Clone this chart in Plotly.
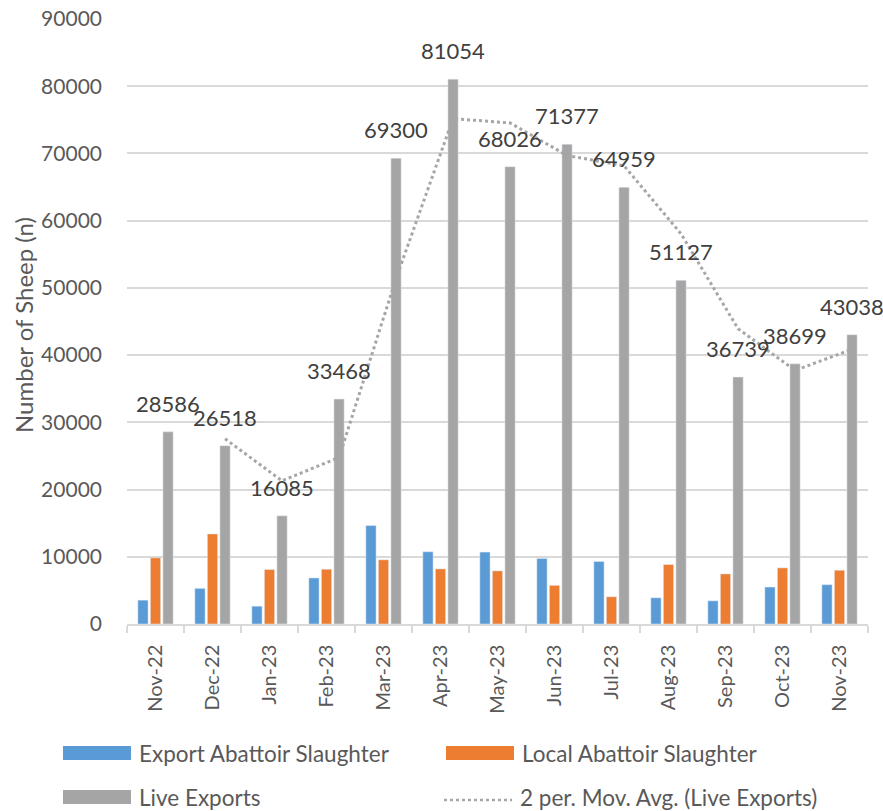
import plotly.graph_objects as go
import pandas as pd

# ---------------- data ----------------
months = ["Nov-22", "Dec-22", "Jan-23", "Feb-23", "Mar-23", "Apr-23", "May-23",
          "Jun-23", "Jul-23", "Aug-23", "Sep-23", "Oct-23", "Nov-23"]
export_abattoir = [3550, 5300, 2650, 6850, 14650, 10750, 10700,
                   9750, 9300, 3900, 3450, 5500, 5850]
local_abattoir = [9850, 13400, 8100, 8150, 9550, 8200, 7900,
                  5750, 4050, 8850, 7450, 8350, 8000]
live_exports = [28586, 26518, 16085, 33468, 69300, 81054, 68026,
                71377, 64959, 51127, 36739, 38699, 43038]
y_ticks = [0, 10000, 20000, 30000, 40000, 50000, 60000, 70000, 80000, 90000]
y_tick_labels = [str(v) for v in y_ticks]

# 2-period moving average trendline of Live Exports (as Excel computes it)
mov_avg = pd.Series(live_exports).rolling(2).mean().tolist()

# ---------------- styling ----------------
BLUE = "#5B9BD5"
ORANGE = "#ED7D31"
GRAY = "#A5A5A5"
FONT = "Lato"
TICK_COLOR = "#595959"
LABEL_COLOR = "#404040"
GRID = "#D9D9D9"

W, H = 883, 811
PL, PR, PT, PB = 127, 868, 19, 624   # plot-area pixel box

BAR_W = 0.18
SLOT = 0.22
xs = list(range(len(months)))

fig = go.Figure()
fig.add_trace(go.Bar(x=xs, y=export_abattoir, name="Export Abattoir Slaughter",
                     marker_color=BLUE, width=BAR_W, offset=-SLOT - BAR_W / 2,
                     showlegend=False))
fig.add_trace(go.Bar(x=xs, y=local_abattoir, name="Local Abattoir Slaughter",
                     marker_color=ORANGE, width=BAR_W, offset=-BAR_W / 2,
                     showlegend=False))
fig.add_trace(go.Bar(x=xs, y=live_exports, name="Live Exports",
                     marker_color=GRAY, width=BAR_W, offset=SLOT - BAR_W / 2,
                     showlegend=False))

ma_x = [x + SLOT for x, v in zip(xs, mov_avg) if pd.notna(v)]
ma_y = [v for v in mov_avg if pd.notna(v)]
fig.add_trace(go.Scatter(x=ma_x, y=ma_y, mode="lines",
                         name="2 per. Mov. Avg. (Live Exports)",
                         line=dict(color="#A6A6A6", width=3, dash="dot"),
                         showlegend=False, cliponaxis=False))

# data labels on Live Exports bars
for x, v in zip(xs, live_exports):
    fig.add_annotation(x=x + SLOT, y=v, text=str(v), showarrow=False,
                       xanchor="center", yanchor="bottom", yshift=13,
                       font=dict(family=FONT, size=22, color=LABEL_COLOR))


def px_x(p):
    return (p - PL) / (PR - PL)


def px_y(p):
    return (PB - p) / (PB - PT)


# y-axis title
fig.add_annotation(xref="paper", yref="paper", x=px_x(23), y=px_y(325),
                   text="Number of Sheep (n)", textangle=-90, showarrow=False,
                   xanchor="center", yanchor="middle",
                   font=dict(family=FONT, size=24, color=TICK_COLOR))

# manual legend (wide swatches like the original)
legend_items = [
    ("Export Abattoir Slaughter", BLUE, "bar", 63, 753),
    ("Local Abattoir Slaughter", ORANGE, "bar", 446, 753),
    ("Live Exports", GRAY, "bar", 63, 797),
    ("2 per. Mov. Avg. (Live Exports)", "#A6A6A6", "line", 444, 797),
]
for label, color, kind, lx, ly in legend_items:
    if kind == "bar":
        fig.add_shape(type="rect", xref="paper", yref="paper",
                      x0=px_x(lx), x1=px_x(lx + 68),
                      y0=px_y(ly + 7), y1=px_y(ly - 7),
                      fillcolor=color, line=dict(width=0))
    else:
        fig.add_shape(type="line", xref="paper", yref="paper",
                      x0=px_x(lx), x1=px_x(lx + 68),
                      y0=px_y(ly + 3), y1=px_y(ly + 3),
                      line=dict(color=color, width=2.5, dash="dot"))
    fig.add_annotation(xref="paper", yref="paper",
                       x=px_x(lx + 74), y=px_y(ly),
                       text=label, showarrow=False, xanchor="left", yanchor="middle",
                       font=dict(family=FONT, size=22.5, color=TICK_COLOR))

fig.update_layout(
    width=W, height=H,
    margin=dict(l=PL, r=W - PR, t=PT, b=H - PB),
    plot_bgcolor="white", paper_bgcolor="white",
    barmode="overlay",
    font=dict(family=FONT, size=21, color=TICK_COLOR),
    showlegend=False,
)
fig.update_xaxes(
    automargin=False,
    range=[-0.5, len(months) - 0.5],
    tickmode="array", tickvals=xs, ticktext=months, tickangle=-90,
    ticks="", showgrid=False, zeroline=False,
    showline=True, linecolor=GRID, linewidth=1.5,
    minor=dict(ticks="outside", tick0=-0.5, dtick=1, ticklen=7,
               tickcolor=GRID, tickwidth=1.5, showgrid=False),
    ticklabelstandoff=11,
    tickfont=dict(family=FONT, size=20, color=TICK_COLOR),
)
fig.update_yaxes(
    automargin=False,
    range=[0, 90000], tickmode="array", tickvals=y_ticks, ticktext=y_tick_labels,
    showgrid=True, gridcolor=GRID, gridwidth=1.5, zeroline=False,
    showline=False, ticks="", ticklabelstandoff=24,
    tickfont=dict(family=FONT, size=21, color=TICK_COLOR),
)

fig.write_html("out.html",
               config={"displayModeBar": False},
               post_script="document.body.style.margin='0px';"
                           "document.body.style.overflow='hidden';")
